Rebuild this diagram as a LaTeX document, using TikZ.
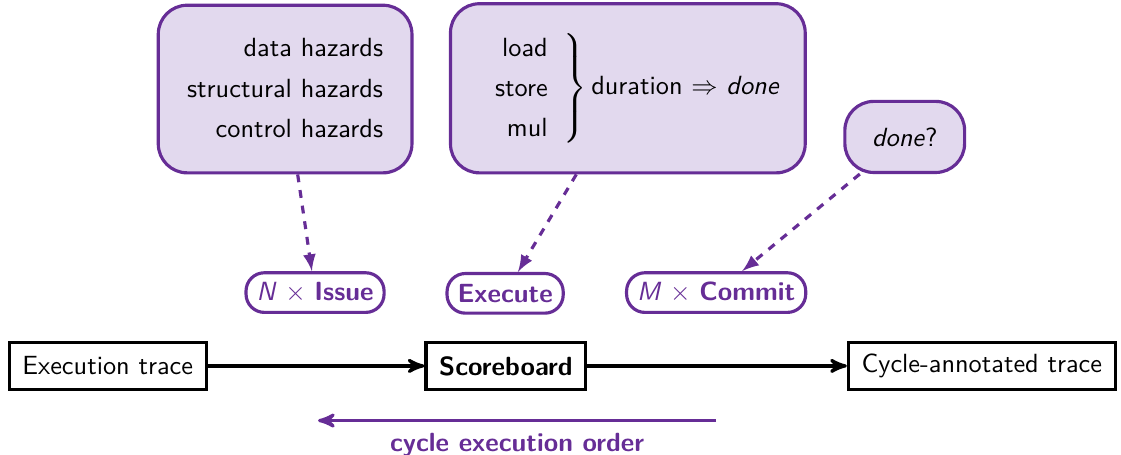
\documentclass[tikz,border=0pt]{standalone}
\usepackage{tikz}
\usepackage{amsmath}
\usepackage{amssymb}
\usepackage{xcolor}
\usetikzlibrary{arrows}

\definecolor{sbpurple}{RGB}{102,45,150}
\definecolor{sblight}{RGB}{226,217,238}

\begin{document}
\begin{tikzpicture}[>=stealth', font=\sffamily,
    trace/.style={draw,very thick,inner xsep=5pt,minimum height=0.63cm},
    bubble/.style={draw=sbpurple,very thick,fill=sblight,rounded corners=11pt},
    stage/.style={draw=sbpurple,very thick,fill=white,text=sbpurple,rounded corners=7pt,minimum height=0.53cm,inner xsep=4pt}]
    \useasboundingbox (0,0) rectangle (14.98,6.07);
    \renewcommand{\arraystretch}{1.27}

    % Main flow:
    \node [trace] (exec)   at (1.44,1.18)  {Execution trace};
    \node [trace] (sb)     at (6.76,1.18)  {\textbf{Scoreboard}};
    \node [trace] (annot)  at (13.12,1.18) {Cycle-annotated trace};
    \draw [very thick,->] (exec) -- (sb);
    \draw [very thick,->] (sb) -- (annot);

    % Order in which stages run each cycle:
    \coordinate (ordA) at (9.57,0.45);
    \coordinate (ordB) at (4.25,0.45);
    \draw [very thick,sbpurple,->] (ordA) -- (ordB)
        node [midway,below=1pt,font=\sffamily\bfseries] (ordlbl) {cycle execution order};

    % Stages:
    \node [stage] (issue)   at (4.21,2.16) {\textit{N} $\times$ \textbf{Issue}};
    \node [stage] (execute) at (6.75,2.15) {\textbf{Execute}};
    \node [stage] (commit)  at (9.57,2.16) {\textit{M} $\times$ \textbf{Commit}};

    % What each stage checks:
    \node [bubble,minimum width=3.39cm,minimum height=2.24cm] (haz) at (3.81,4.88)
        {\begin{tabular}{r}data hazards\\structural hazards\\control hazards\end{tabular}};
    \node [bubble,minimum width=4.74cm,minimum height=2.26cm] (dur) at (8.39,4.89)
        {$\left.\begin{tabular}{r}load\\store\\mul\end{tabular}\right\}$\,duration $\Rightarrow$ \textit{done}};
    \node [bubble,minimum width=1.6cm,minimum height=0.95cm] (done) at (12.09,4.24)
        {\textit{done}?};

    \draw [very thick,dashed,sbpurple,-latex] (haz) -- (issue);
    \draw [very thick,dashed,sbpurple,-latex] (dur) -- (execute);
    \draw [very thick,dashed,sbpurple,-latex] (done) -- (commit);
\end{tikzpicture}
\end{document}
